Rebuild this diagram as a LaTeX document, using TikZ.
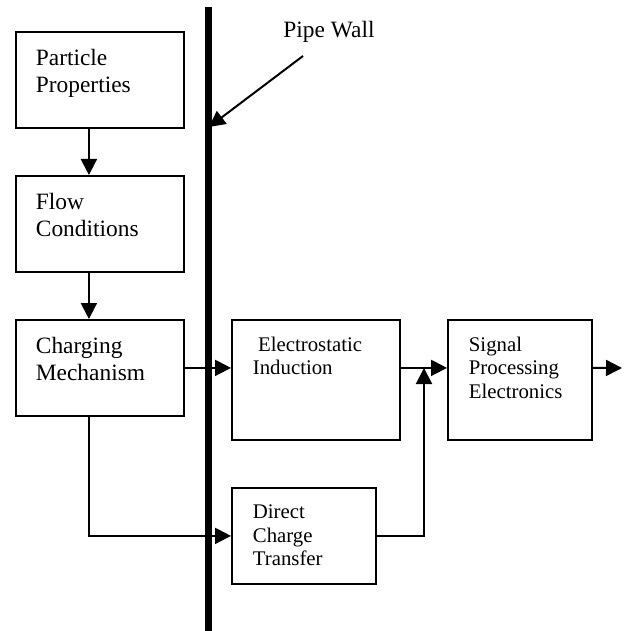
\documentclass[tikz,border=0pt]{standalone}
\usepackage{fontspec}
\setmainfont{Liberation Serif}
\usetikzlibrary{positioning, arrows.meta, calc}

\newcommand{\blktxt}[3]{\parbox[t][#2][t]{#1}{\raggedright #3}}

\begin{document}
\begin{tikzpicture}[
        x=1pt, y=-1pt,
        blk/.style={
            draw, line width=1.8pt, anchor=north west,
            inner xsep=20pt, inner ysep=17pt,
            font=\fontsize{23.4}{27}\selectfont
        },
        rblk/.style={
            blk, inner xsep=21pt,
            font=\fontsize{20.8}{23.5}\selectfont
        },
        arr/.style={-{Triangle[length=16pt, width=16pt]}, line width=2pt},
        wall/.style={line width=7pt}
    ]
    \useasboundingbox (0,0) rectangle (628,631);

    \node[blk] (pp) at (15,31) {\blktxt{128pt}{62pt}{Particle\\Properties}};
    \node[blk] (fc) at (15,175) {\blktxt{128pt}{62pt}{Flow\\Conditions}};
    \node[blk] (cm) at (15,319) {\blktxt{128pt}{62pt}{Charging\\Mechanism}};
    \node[rblk] (ei) at (231,319) {\blktxt{126pt}{86pt}{\ Electrostatic\\Induction}};
    \node[rblk] (spe) at (447,319) {\blktxt{102pt}{86pt}{Signal\\Processing\\Electronics}};
    \node[rblk] (dct) at (231,487) {\blktxt{102pt}{62pt}{Direct\\Charge\\Transfer}};

    % pipe wall
    \coordinate (wtop) at (208,7);
    \coordinate (wbot) at (208,631);
    \draw[wall] (wtop) -- (wbot);
    \node[font=\fontsize{23.4}{27}\selectfont, anchor=base] (pw) at (329,38) {Pipe Wall};
    \coordinate (pwtail) at (303,56);
    \coordinate (pwtip) at (209,127);
    \draw[arr] (pwtail) -- (pwtip);

    \draw[arr] ([xshift=-11pt]pp.south) -- ([xshift=-11pt]fc.north);
    \draw[arr] ([xshift=-11pt]fc.south) -- ([xshift=-11pt]cm.north);
    \draw[arr] (cm.east) -- (cm.east -| ei.west);
    \draw[arr] (cm.east -| ei.east) -- (cm.east -| spe.west);
    \coordinate (out) at (622,368);
    \draw[arr] (cm.east -| spe.east) -- (out);
    \draw[arr] ([xshift=-11pt]cm.south) |- (dct.west);
    \coordinate (jn) at (424,368);
    \draw[arr] (dct.east) -| (jn);
\end{tikzpicture}
\end{document}
